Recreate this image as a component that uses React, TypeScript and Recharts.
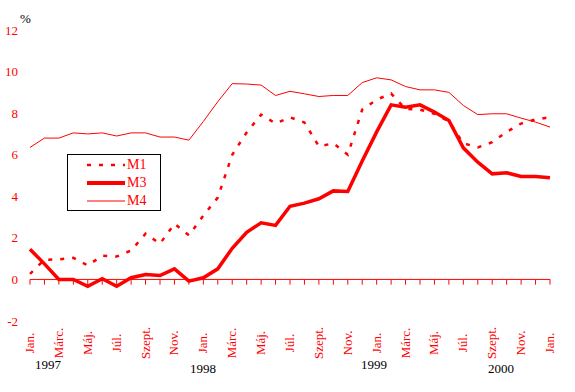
import React from "react";
import {
  LineChart,
  Line,
  XAxis,
  YAxis,
  ReferenceLine,
  Legend,
} from "recharts";

// monthly values, Jan 1997 .. Jan 2000
const monthNames = ["Jan.", "Febr.", "Márc.", "Ápr.", "Máj.", "Jún.", "Júl.", "Aug.", "Szept.", "Okt.", "Nov.", "Dec."];
const startYear = 1997;

const m1 = [0.27, 0.95, 0.96, 1.04, 0.67, 1.14, 1.1, 1.39, 2.2, 1.72, 2.68, 2.12, 3.07, 3.94, 6.0, 7.07, 7.93, 7.5, 7.8, 7.55, 6.4, 6.55, 6.0, 8.17, 8.65, 8.94, 8.2, 8.17, 7.97, 7.6, 6.55, 6.35, 6.6, 7.1, 7.5, 7.7, 7.8];
const m3 = [1.45, 0.75, 0, 0, -0.33, 0.03, -0.33, 0.08, 0.24, 0.19, 0.51, -0.08, 0.08, 0.51, 1.5, 2.27, 2.72, 2.6, 3.52, 3.67, 3.88, 4.26, 4.23, 5.7, 7.1, 8.4, 8.28, 8.4, 8.05, 7.65, 6.33, 5.64, 5.08, 5.13, 4.95, 4.95, 4.89];
const m4 = [6.35, 6.8, 6.8, 7.05, 7.0, 7.05, 6.9, 7.05, 7.05, 6.85, 6.85, 6.7, 7.6, 8.55, 9.42, 9.4, 9.35, 8.85, 9.05, 8.93, 8.8, 8.85, 8.85, 9.47, 9.7, 9.6, 9.28, 9.12, 9.12, 9.0, 8.37, 7.93, 7.97, 7.97, 7.76, 7.57, 7.33];

const yTicks = [-2, 0, 2, 4, 6, 8, 10, 12];
const yearLabels = [
  { text: "1997", x: 48, y: 369 },
  { text: "1998", x: 203, y: 373 },
  { text: "1999", x: 374, y: 369 },
  { text: "2000", x: 501, y: 373 },
];

const RED = "#ff0000";
const FONT = "'Liberation Serif', 'Times New Roman', serif";

const data = m1.map((v, i) => ({
  key: `${startYear + Math.floor(i / 12)}-${(i % 12) + 1}`,
  month: monthNames[i % 12],
  m1: v,
  m3: m3[i],
  m4: m4[i],
}));

const MonthTick = (props: any) => {
  const { x, y, payload } = props;
  const label = data[payload.index] ? data[payload.index].month : "";
  return (
    <g transform={`translate(${x},${y})`}>
      <text
        transform="rotate(-90)"
        x={-14}
        y={4}
        textAnchor="middle"
        fill={RED}
        fontSize={13}
        fontFamily={FONT}
      >
        {label}
      </text>
    </g>
  );
};

const legendItems = [
  { name: "M1", width: 2.5, dash: "4 8" },
  { name: "M3", width: 4, dash: undefined },
  { name: "M4", width: 1, dash: undefined },
];

const LegendBox = () => (
  <div
    style={{
      width: 94,
      height: 57,
      border: "1px solid #000",
      background: "#fff",
      fontFamily: FONT,
      fontSize: 14,
      color: RED,
      boxSizing: "border-box",
      paddingTop: 1,
    }}
  >
    {legendItems.map((it) => (
      <div key={it.name} style={{ display: "flex", alignItems: "center", height: 18 }}>
        <svg width={59} height={10}>
          <line x1={19} x2={57} y1={5} y2={5} stroke={RED} strokeWidth={it.width} strokeDasharray={it.dash} />
        </svg>
        <span>{it.name}</span>
      </div>
    ))}
  </div>
);

export default function App() {
  return (
    <div style={{ position: "absolute", left: 0, top: 0, width: 575, height: 392, background: "#fff" }}>
      <LineChart width={575} height={392} data={data} margin={{ top: 30, right: 25, left: 0, bottom: 0 }}>
        <XAxis
          dataKey="key"
          interval={1}
          axisLine={false}
          tickLine={false}
          tick={<MonthTick />}
          height={71}
        />
        <YAxis
          domain={[-2, 12]}
          ticks={yTicks}
          width={30}
          axisLine={false}
          tickLine={false}
          tickMargin={6}
          tick={{ fill: RED, fontSize: 13, fontFamily: FONT }}
        />
        <ReferenceLine y={0} stroke={RED} strokeWidth={1} />
        {data.map((d) => (
          <ReferenceLine
            key={d.key}
            segment={[
              { x: d.key, y: 0 },
              { x: d.key, y: -0.25 },
            ]}
            stroke={RED}
            strokeWidth={1}
          />
        ))}
        <Line type="linear" dataKey="m4" name="M4" stroke={RED} strokeWidth={1} dot={false} isAnimationActive={false} />
        <Line type="linear" dataKey="m3" name="M3" stroke={RED} strokeWidth={3.5} dot={false} isAnimationActive={false} />
        <Line
          type="linear"
          dataKey="m1"
          name="M1"
          stroke={RED}
          strokeWidth={2.5}
          strokeDasharray="4 8"
          dot={false}
          isAnimationActive={false}
        />
        <Legend
          layout="horizontal"
          verticalAlign="middle"
          align="center"
          content={<LegendBox />}
          wrapperStyle={{ position: "absolute", left: 67, top: 154, width: 94 }}
        />
      </LineChart>
      <svg width={575} height={392} style={{ position: "absolute", left: 0, top: 0, pointerEvents: "none" }}>
        <text x={20} y={23} fontSize={13} fontFamily={FONT} fill="#000">
          %
        </text>
        {yearLabels.map((yl) => (
          <text key={yl.text} x={yl.x} y={yl.y} textAnchor="middle" fontSize={13} fontFamily={FONT} fill="#000">
            {yl.text}
          </text>
        ))}
      </svg>
    </div>
  );
}
